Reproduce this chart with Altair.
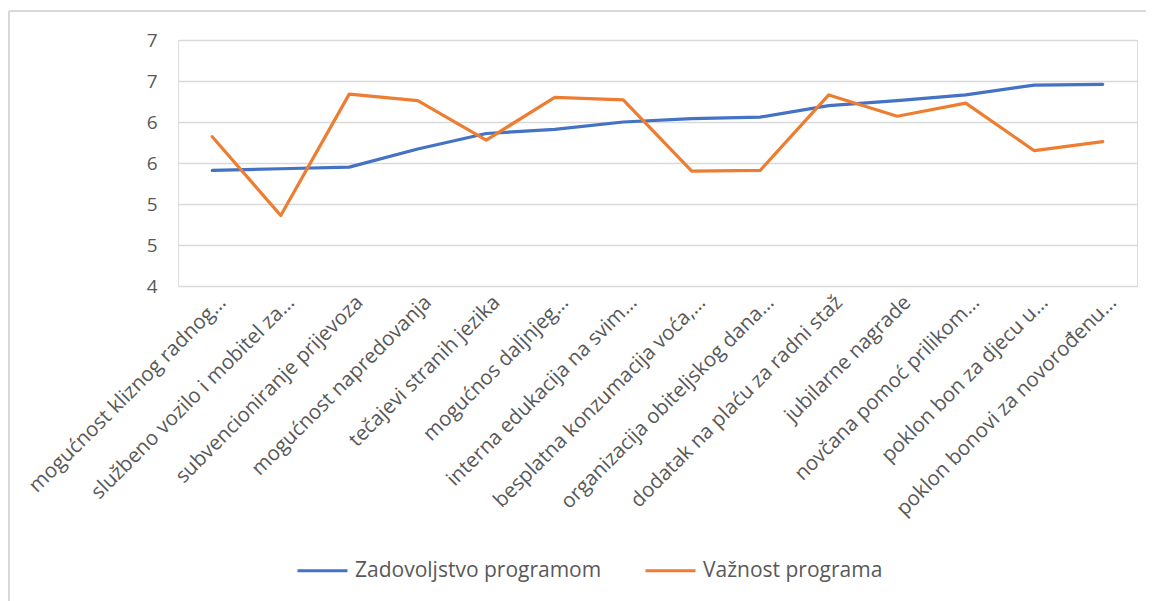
import altair as alt
import pandas as pd

categories = [
    "mogućnost kliznog radnog…",
    "službeno vozilo i mobitel za…",
    "subvencioniranje prijevoza",
    "mogućnost napredovanja",
    "tečajevi stranih jezika",
    "mogućnos daljnjeg…",
    "interna edukacija na svim…",
    "besplatna konzumacija voća,…",
    "organizacija obiteljskog dana…",
    "dodatak na plaću za radni staž",
    "jubilarne nagrade",
    "novčana pomoć prilikom…",
    "poklon bon za djecu u…",
    "poklon bonovi za novorođenu…",
]
series_names = ["Zadovoljstvo programom", "Važnost programa"]
zadovoljstvo = [5.41, 5.43, 5.45, 5.67, 5.86, 5.91, 6.00, 6.04, 6.06, 6.20, 6.26, 6.33, 6.45, 6.46]
vaznost = [5.82, 4.86, 6.34, 6.26, 5.78, 6.30, 6.27, 5.40, 5.41, 6.33, 6.07, 6.23, 5.65, 5.76]
y_ticks = [4, 4.5, 5, 5.5, 6, 6.5, 7]
colors = ["#4472C4", "#ED7D31"]

rows = []
for c, v in zip(categories, zadovoljstvo):
    rows.append({"kategorija": c, "serija": series_names[0], "vrijednost": v})
for c, v in zip(categories, vaznost):
    rows.append({"kategorija": c, "serija": series_names[1], "vrijednost": v})
df = pd.DataFrame(rows)

FONT = "Open Sans"
TXT = "#595959"

lines = alt.Chart(df).mark_line(strokeWidth=3.2, strokeCap="round", strokeJoin="round").encode(
    x=alt.X(
        "kategorija:N",
        sort=categories,
        title=None,
        axis=alt.Axis(
            labelAngle=-45,
            labelAlign="right",
            labelBaseline="middle",
            labelPadding=13,
            labelOffset=10,
            labelFontSize=20.5,
            labelColor=TXT,
            labelFont=FONT,
            labelLimit=400,
            domain=False,
            ticks=False,
            grid=False,
        ),
    ),
    y=alt.Y(
        "vrijednost:Q",
        scale=alt.Scale(domain=[4, 7], nice=False, zero=False),
        title=None,
        axis=alt.Axis(
            values=y_ticks,
            labelExpr="'' + round(datum.value)",
            labelFontSize=19,
            labelColor=TXT,
            labelFont=FONT,
            labelPadding=21,
            domain=False,
            ticks=False,
            gridColor="#d9d9d9",
            gridWidth=1.5,
        ),
    ),
    color=alt.Color(
        "serija:N",
        scale=alt.Scale(domain=series_names, range=colors),
        title=None,
        legend=alt.Legend(
            orient="none",
            legendX=118,
            legendY=504,
            direction="horizontal",
            symbolType="stroke",
            symbolSize=2500,
            symbolStrokeWidth=3,
            labelFontSize=21,
            labelColor=TXT,
            labelFont=FONT,
            labelOffset=6,
            columnPadding=37,
            labelLimit=400,
        ),
    ),
)

frame_left = alt.Chart(pd.DataFrame({"k": [0]})).mark_rule(color="#d9d9d9", strokeWidth=2).encode(
    x=alt.value(-169), y=alt.value(-29), y2=alt.value(600)
)
frame_top = alt.Chart(pd.DataFrame({"k": [0]})).mark_rule(color="#d9d9d9", strokeWidth=2).encode(
    x=alt.value(-169), x2=alt.value(1000), y=alt.value(-29)
)

chart = alt.layer(frame_left, frame_top, lines).properties(
    width=959,
    height=246,
    padding={"left": 170, "top": 32, "right": 9, "bottom": 315},
    autosize=alt.AutoSizeParams(type="none"),
).configure_view(strokeWidth=0, stroke="transparent").configure(background="white")

chart.save("out.html", embed_options={"renderer": "svg", "actions": False})
